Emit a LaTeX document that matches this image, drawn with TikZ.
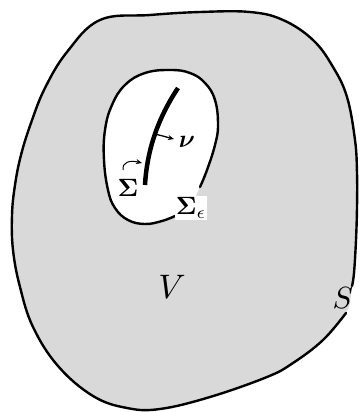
\documentclass[tikz,border=0pt]{standalone}
\usepackage{bm}
\usetikzlibrary{arrows.meta}
\begin{document}
\begin{tikzpicture}[x=1pt,y=-1pt,
  bound/.style={line width=2.4pt, line join=round, line cap=round},
  big/.style={inner sep=0.3pt, scale=3.4},
  mid/.style={inner sep=0.5pt, scale=2.5},
  tip/.style={-{Stealth[length=6pt,width=5pt]}, line width=1.3pt}]
\useasboundingbox (0,0) rectangle (359,412);
% outer region V
\fill[black!15] plot[smooth cycle, tension=0.65] coordinates {
 (100,20) (150,15) (200,12) (250,12) (283,20) (313,40) (333,67) (347,97)
 (355,140) (357,173) (357,207) (356,240) (354,273) (351,295) (346,313)
 (323,340) (293,363) (267,377) (210,397) (160,409) (127,408) (93,396)
 (58,366) (33,327) (20,287) (13,250) (12,215) (15,185) (21,155) (31,123)
 (45,88) (67,52)};
\draw[bound] plot[smooth, tension=0.65] coordinates {
 (346,313) (323,340) (293,363) (267,377) (210,397) (160,409) (127,408)
 (93,396) (58,366) (33,327) (20,287) (13,250) (12,215) (15,185) (21,155)
 (31,123) (45,88) (67,52) (100,20) (150,15) (200,12) (250,12) (283,20)
 (313,40) (333,67) (347,97) (355,140) (357,173) (357,207) (356,240)
 (354,273) (352,286)};
% hole bounded by Sigma_eps
\fill[white] plot[smooth cycle, tension=0.7] coordinates {
 (175,216) (162,221) (145,224) (128,220) (115,208) (108,190) (104,160)
 (105,130) (112,105) (125,85) (145,73) (170,70) (190,73) (205,83) (215,100)
 (218,125) (215,145) (207,170) (200,187) (190,205)};
\draw[bound] plot[smooth, tension=0.7] coordinates {
 (175,216) (162,221) (145,224) (128,220) (115,208) (108,190) (104,160)
 (105,130) (112,105) (125,85) (145,73) (170,70) (190,73) (205,83) (215,100)
 (218,125) (215,145) (207,170) (200,187)};
% crack Sigma
\coordinate (sb) at (145,185);
\coordinate (st) at (178,88);
\coordinate (sm) at (154,134);
\draw[line width=4.5pt] (sb) .. controls (147,150) and (158,118) .. (st);
\coordinate (nu) at (174,139);
\draw[tip] (sm) .. controls (160,135) and (166,137) .. (nu);
\coordinate (ca) at (123,170);
\coordinate (cb) at (142,163);
\draw[tip, line width=1pt] (ca) .. controls (122,162) and (130,160) .. (cb);
% labels
\node[mid] (lnu) at (187,142) {$\bm{\nu}$};
\node[mid] (lsig) at (128,188) {$\bm{\Sigma}$};
\node[mid, fill=white] (lse) at (191,208) {$\bm{\Sigma}_{\epsilon}$};
\node[big] (lv) at (172,287) {$V$};
\node[big, inner sep=0pt, scale=0.9] (ls) at (343,298) {$S$};
\end{tikzpicture}
\end{document}
